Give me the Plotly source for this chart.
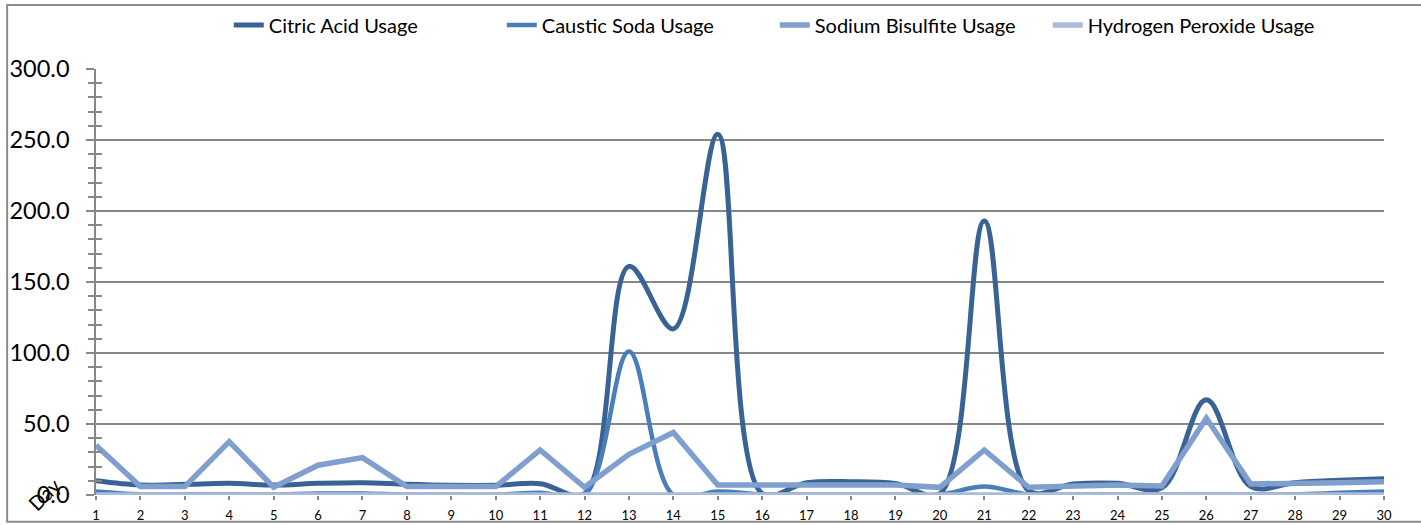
import plotly.graph_objects as go

# Daily chemical usage over a 30-day period
days = list(range(1, 31))

citric_acid = [10, 7, 7.5, 8.2, 7, 8.2, 8.7, 7.5, 6.8, 6.8,
               8, 1, 161, 117, 254, 1, 8.7, 9.4, 8.2, 1,
               193, 3, 7.7, 8.2, 5, 67, 6, 8.7, 10.3, 11.5]
caustic_soda = [2.5, 0.5, 0.5, 0.5, 0.3, 1, 1, 0.3, 0.3, 0.3,
                1.5, 0, 101, 0, 2.5, 0.5, 0.3, 0.3, 0.3, 0.3,
                6, 0.3, 0.3, 0.3, 0.3, 0.3, 0.3, 0.5, 1.5, 2.5]
sodium_bisulfite = [35, 5.9, 5.9, 37.6, 5.5, 21, 26.3, 5.9, 5.9, 5.9,
                    31.7, 5.4, 28.6, 44, 7, 7, 7, 7.8, 7, 5.4,
                    31.7, 5.4, 6.3, 7, 6.3, 54, 7.8, 7.8, 8.7, 9.4]
hydrogen_peroxide = [0] * 30

series = [
    ("Citric Acid Usage", citric_acid, "#3A6395", 5, "spline"),
    ("Caustic Soda Usage", caustic_soda, "#4A7EBB", 4.5, "spline"),
    ("Sodium Bisulfite Usage", sodium_bisulfite, "#7F9FCF", 5.5, "linear"),
    ("Hydrogen Peroxide Usage", hydrogen_peroxide, "#AABCDA", 5.5, "linear"),
]

FONT = "Lato"
GRID = "#878787"

fig = go.Figure()
for i, (name, vals, color, width, shape) in enumerate(series):
    fig.add_trace(go.Scatter(
        x=days, y=vals, name=name, mode="lines",
        line=dict(color=color, width=width, shape=shape, smoothing=1.0),
        yaxis="y2" if i == len(series) - 1 else "y",
    ))

fig.update_layout(
    width=1421, height=525,
    margin=dict(l=96, r=37, t=69, b=30, autoexpand=False),
    paper_bgcolor="white", plot_bgcolor="white",
    font=dict(family=FONT, color="black"),
    showlegend=True,
    legend=dict(
        orientation="h", x=0.527, xanchor="center", y=1.149, yanchor="top",
        font=dict(size=20, family=FONT), bgcolor="rgba(0,0,0,0)",
        entrywidth=228, entrywidthmode="pixels",
    ),
    xaxis=dict(
        range=[1, 30], tickmode="array", tickvals=days,
        ticktext=[str(d) for d in days],
        tickfont=dict(size=13, family=FONT), ticklabelstandoff=4,
        ticks="outside", ticklen=4, tickcolor=GRID, tickwidth=1.5,
        showgrid=False, zeroline=False, showline=False, automargin=False,
    ),
    yaxis=dict(
        range=[0, 300], dtick=50, tickformat=".1f",
        tickfont=dict(size=23.5, family=FONT), ticklabelstandoff=12,
        ticks="outside", ticklen=8, tickcolor=GRID, tickwidth=1.5,
        minor=dict(ticks="outside", dtick=10, ticklen=6, tickcolor=GRID, tickwidth=1.5),
        showgrid=True, gridcolor=GRID, gridwidth=1.5,
        showline=True, linecolor=GRID, linewidth=1.5, zeroline=False,
        automargin=False,
    ),
    yaxis2=dict(
        range=[0, 300], dtick=50, overlaying="y", side="left",
        showticklabels=False, showgrid=False, zeroline=False,
        ticks="inside", ticklen=6, tickcolor=GRID, tickwidth=1.5,
        minor=dict(ticks="inside", dtick=10, ticklen=6, tickcolor=GRID, tickwidth=1.5),
        showline=False, automargin=False,
    ),
    annotations=[dict(
        text="Day", xref="paper", yref="paper", x=-0.059, y=-0.053,
        showarrow=False, textangle=-45, font=dict(size=20, family=FONT),
    )],
    shapes=[dict(
        type="rect", xref="paper", yref="paper",
        x0=-0.069, x1=1.2, y0=-0.063, y1=1.150,
        line=dict(color="#8C8C8C", width=2), layer="below",
    )],
)

fig.write_html("out.html")
